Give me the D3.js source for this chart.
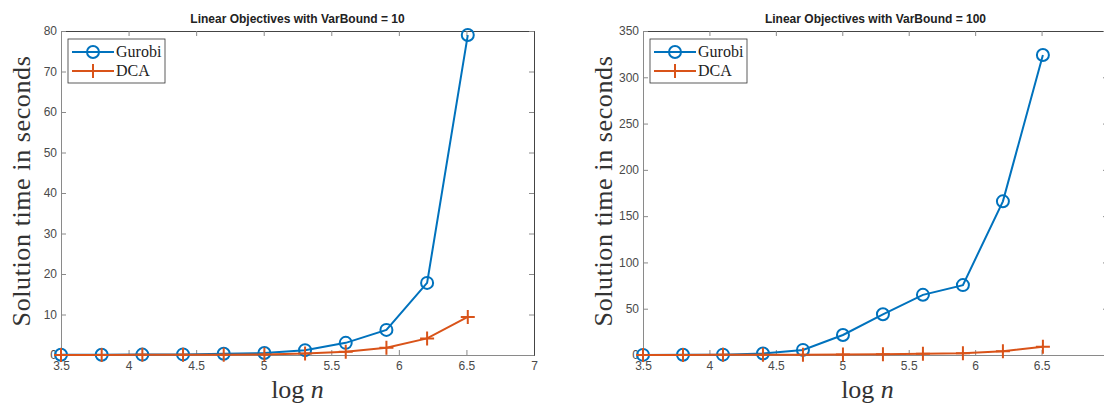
<!DOCTYPE html>
<html>
<head>
<meta charset="utf-8">
<script src="https://cdn.jsdelivr.net/npm/d3@7"></script>
<style>
  body { margin: 0; background: #fff; }
  svg { display: block; }
</style>
</head>
<body>
<div id="chart-area"></div>
<script>
// log n values (n doubles each step)
const logN = [3.5, 3.801, 4.102, 4.403, 4.704, 5.005, 5.306, 5.607, 5.908, 6.209, 6.51]

// VarBound = 10
const gurobi10 = [0.05, 0.08, 0.1, 0.15, 0.3, 0.5, 1.2, 3.0, 6.2, 17.8, 79]
const dca10 = [0.02, 0.03, 0.04, 0.05, 0.08, 0.15, 0.35, 0.8, 1.8, 4.1, 9.4]

// VarBound = 100
const gurobi100 = [0.1, 0.2, 0.4, 1.6, 5.5, 21.6, 44, 65, 75.5, 166, 324]
const dca100 = [0.05, 0.1, 0.15, 0.25, 0.4, 0.6, 0.9, 1.3, 2.0, 4.0, 9.0]

const xTicks = [3.5, 4, 4.5, 5, 5.5, 6, 6.5, 7]
const yTicks10 = [0, 10, 20, 30, 40, 50, 60, 70, 80]
const yTicks100 = [0, 50, 100, 150, 200, 250, 300, 350]

const seriesNames = ["Gurobi", "DCA"]
const colors = ["#0072BD", "#D95319"]

const svg = d3.select("#chart-area")
    .append("svg")
    .attr("width", 1104)
    .attr("height", 404)

const panels = [
  { title: "Linear Objectives with VarBound = 10", left: 61, right: 534, yMax: 80, yTicks: yTicks10, series: [gurobi10, dca10] },
  { title: "Linear Objectives with VarBound = 100", left: 643, right: 1108, yMax: 350, yTicks: yTicks100, series: [gurobi100, dca100] }
]

const TOP = 31
const BOTTOM = 355
const TICK = 5
const axisColor = "#8a8a8a"
const labelColor = "#4a4a4a"

panels.forEach(p => {
  const x = d3.scaleLinear().domain([3.5, 7]).range([p.left, p.right])
  const y = d3.scaleLinear().domain([0, p.yMax]).range([BOTTOM, TOP])
  const g = svg.append("g")

  // axes, ticks point inward on all four sides
  const bottomAxis = g.append("g")
      .attr("transform", `translate(0, ${BOTTOM})`)
      .call(d3.axisBottom(x).tickValues(xTicks).tickSize(-TICK).tickPadding(6).tickFormat(d3.format("")))
  const topAxis = g.append("g")
      .attr("transform", `translate(0, ${TOP})`)
      .call(d3.axisTop(x).tickValues(xTicks).tickSize(-TICK).tickFormat(""))
  const leftAxis = g.append("g")
      .attr("transform", `translate(${p.left}, 0)`)
      .call(d3.axisLeft(y).tickValues(p.yTicks).tickSize(-TICK).tickPadding(4))
  const rightAxis = g.append("g")
      .attr("transform", `translate(${p.right}, 0)`)
      .call(d3.axisRight(y).tickValues(p.yTicks).tickSize(-TICK).tickFormat(""))

  ;[bottomAxis, topAxis, leftAxis, rightAxis].forEach(a => {
    a.select(".domain").attr("stroke", axisColor).attr("stroke-width", 1)
    a.selectAll(".tick line").attr("stroke", axisColor)
    a.selectAll(".tick text")
      .attr("fill", labelColor)
      .attr("font-family", "Liberation Sans, Arial, sans-serif")
      .attr("font-size", "12px")
  })
  topAxis.select(".domain").attr("stroke", "#444")
  rightAxis.select(".domain").attr("stroke", "#444")
  // the right figure is cropped, so its last x label is not visible
  bottomAxis.selectAll(".tick text").filter(d => x(d) > 1095).remove()

  // title
  g.append("text")
    .attr("x", (p.left + p.right) / 2)
    .attr("y", TOP - 8)
    .attr("text-anchor", "middle")
    .attr("font-family", "Liberation Sans, Arial, sans-serif")
    .attr("font-weight", "bold")
    .attr("font-size", "12px")
    .attr("fill", "#222")
    .text(p.title)

  // axis labels
  g.append("text")
    .attr("transform", `translate(${p.left - 31}, ${(TOP + BOTTOM) / 2 - 2}) rotate(-90)`)
    .attr("text-anchor", "middle")
    .attr("font-family", "Liberation Serif, Times New Roman, serif")
    .attr("font-size", "26px")
    .attr("letter-spacing", "0.6px")
    .attr("fill", "#333")
    .text("Solution time in seconds")

  const xl = g.append("text")
    .attr("x", (p.left + p.right) / 2 - (p.right > 1104 ? 8 : 0))
    .attr("y", 398)
    .attr("text-anchor", "middle")
    .attr("font-family", "Liberation Serif, Times New Roman, serif")
    .attr("font-size", "26px")
    .attr("fill", "#333")
  xl.append("tspan").text("log ")
  xl.append("tspan").attr("font-style", "italic").text("n")

  // series
  const line = d3.line().x((d, i) => x(logN[i])).y(d => y(d))
  p.series.forEach((vals, s) => {
    g.append("path")
      .datum(vals)
      .attr("fill", "none")
      .attr("stroke", colors[s])
      .attr("stroke-width", 2)
      .attr("d", line)
  })
  // markers
  g.selectAll(".circ")
    .data(p.series[0])
    .enter().append("circle")
    .attr("cx", (d, i) => x(logN[i]))
    .attr("cy", d => y(d))
    .attr("r", 6)
    .attr("fill", "none")
    .attr("stroke", colors[0])
    .attr("stroke-width", 2)
  g.selectAll(".plus")
    .data(p.series[1])
    .enter().append("path")
    .attr("transform", (d, i) => `translate(${x(logN[i])}, ${y(d)})`)
    .attr("d", "M-7,0H7M0,-7V7")
    .attr("stroke", colors[1])
    .attr("stroke-width", 2)

  // legend
  const lg = g.append("g").attr("transform", `translate(${p.left + 7}, ${TOP + 8})`)
  lg.append("rect")
    .attr("width", 97)
    .attr("height", 44)
    .attr("fill", "#fff")
    .attr("stroke", "#333")
    .attr("stroke-width", 0.8)
  seriesNames.forEach((name, s) => {
    const cy = 13 + s * 19
    lg.append("line")
      .attr("x1", 4).attr("x2", 46)
      .attr("y1", cy).attr("y2", cy)
      .attr("stroke", colors[s])
      .attr("stroke-width", 2)
    if (s === 0) {
      lg.append("circle").attr("cx", 25).attr("cy", cy).attr("r", 6)
        .attr("fill", "none").attr("stroke", colors[s]).attr("stroke-width", 2)
    } else {
      lg.append("path").attr("transform", `translate(25, ${cy})`)
        .attr("d", "M-7,0H7M0,-7V7").attr("stroke", colors[s]).attr("stroke-width", 2)
    }
    lg.append("text")
      .attr("x", 48)
      .attr("y", cy + 5)
      .attr("font-family", "Liberation Serif, Times New Roman, serif")
      .attr("font-size", "16px")
      .attr("fill", "#222")
      .text(name)
  })
})
</script>
</body>
</html>
